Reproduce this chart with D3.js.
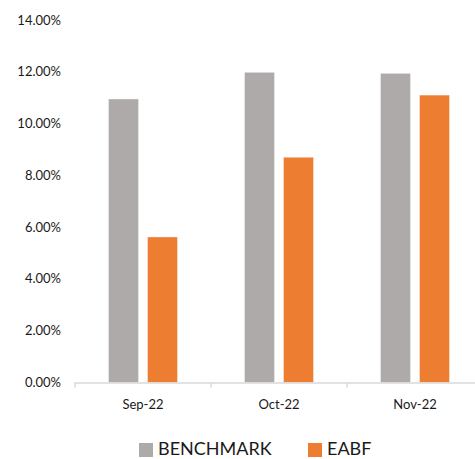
<!DOCTYPE html>
<html>
<head>
<meta charset="utf-8">
<script src="https://cdn.jsdelivr.net/npm/d3@7"></script>
<style>
  body { margin: 0; background: #fff; }
  svg { display: block; font-family: Lato, "Open Sans", sans-serif; }
</style>
</head>
<body>
<div id="chart"></div>
<script>
// Data
const months = ["Sep-22", "Oct-22", "Nov-22"];
const seriesNames = ["BENCHMARK", "EABF"];
const benchmark = [10.95, 11.98, 11.94];
const eabf = [5.62, 8.70, 11.10];
const yTicks = [0, 2, 4, 6, 8, 10, 12, 14];
const colors = ["#AEAAAA", "#ED7D31"];

const W = 475, H = 459;
const margin = {top: 20, left: 75, bottom: 382.5};

const svg = d3.select("#chart")
    .append("svg")
    .attr("width", W)
    .attr("height", H);

// Scales
const x = d3.scaleBand()
    .domain(months)
    .range([margin.left, 483]);

const y = d3.scaleLinear()
    .domain([0, 14])
    .range([margin.bottom, margin.top]);

const barW = 30, gap = 9;

// Y tick labels
svg.selectAll("text.ytick")
    .data(yTicks)
    .enter()
    .append("text")
    .attr("class", "ytick")
    .attr("x", 61)
    .attr("y", d => y(d))
    .attr("dy", "0.35em")
    .attr("text-anchor", "end")
    .style("font-size", "13px")
    .style("fill", "#1a1a1a")
    .text(d => d.toFixed(2) + "%");

// Bars
const rows = months.map((m, i) => ({month: m, vals: [benchmark[i], eabf[i]]}));
rows.forEach(r => {
    r.vals.forEach((v, j) => {
        const cx = x(r.month) + x.bandwidth() / 2;
        const x0 = j === 0 ? cx - gap / 2 - barW : cx + gap / 2;
        svg.append("rect")
            .attr("x", x0)
            .attr("y", y(v))
            .attr("width", barW)
            .attr("height", y(0) - y(v))
            .attr("fill", colors[j])
            .attr("stroke", "#fff")
            .attr("stroke-opacity", 0.5)
            .attr("stroke-width", 0.75);
    });
});

// X axis line + ticks
svg.append("line")
    .attr("x1", margin.left).attr("x2", 483)
    .attr("y1", y(0) + 0.5).attr("y2", y(0) + 0.5)
    .style("stroke", "#D9D9D9")
    .style("stroke-width", 1.5);

svg.selectAll("line.xtick")
    .data(months.map(m => x(m)).concat([483]))
    .enter()
    .append("line")
    .attr("class", "xtick")
    .attr("x1", d => d).attr("x2", d => d)
    .attr("y1", y(0)).attr("y2", y(0) + 5)
    .style("stroke", "#D9D9D9")
    .style("stroke-width", 1.5);

// X labels
svg.selectAll("text.xlab")
    .data(months)
    .enter()
    .append("text")
    .attr("class", "xlab")
    .attr("x", d => x(d) + x.bandwidth() / 2)
    .attr("y", 404)
    .attr("dy", "0.35em")
    .attr("text-anchor", "middle")
    .style("font-size", "13px")
    .style("fill", "#1a1a1a")
    .text(d => d);

// Legend
const legX = [139, 308];
seriesNames.forEach((s, i) => {
    svg.append("rect")
        .attr("x", legX[i])
        .attr("y", 443)
        .attr("width", 14)
        .attr("height", 14)
        .attr("fill", colors[i]);
    svg.append("text")
        .attr("x", legX[i] + 19)
        .attr("y", 455)
        .style("font-size", "18px")
        .style("fill", "#1a1a1a")
        .text(s);
});
</script>
</body>
</html>
